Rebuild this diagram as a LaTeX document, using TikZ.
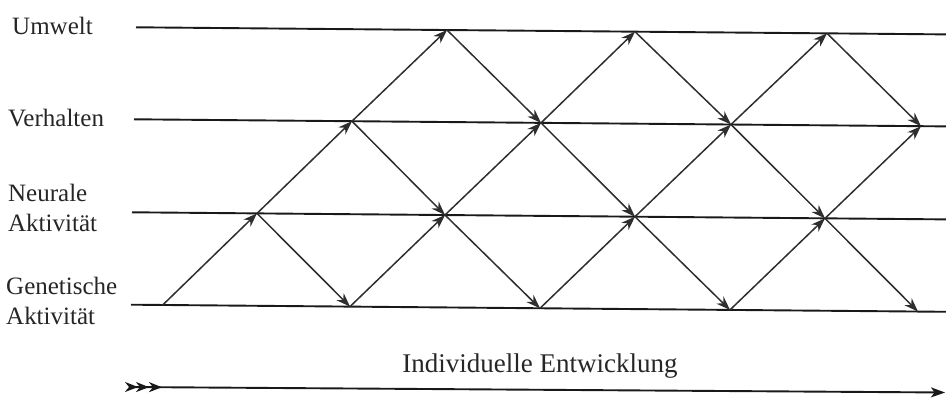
\documentclass[tikz,border=0pt]{standalone}
\usepackage{fontspec}
\setmainfont{Liberation Serif}
\usetikzlibrary{arrows.meta}
\begin{document}
\begin{tikzpicture}[x=1pt,y=-1pt,
  level/.style={line width=1.9pt, draw=black!90},
  flow/.style={line width=1.5pt, draw=black!82, -{Stealth[length=14pt,width=10pt,inset=4.5pt]}},
  lab/.style={anchor=base west, inner sep=0pt, text=black!85, font=\fontsize{25}{30}\selectfont},
  devarrow/.style={line width=1.9pt, draw=black!90,
    {Stealth[reversed,length=13pt,width=10pt,inset=4pt,sep=-2pt]Stealth[reversed,length=13pt,width=10pt,inset=4pt,sep=-2pt]Stealth[reversed,length=13pt,width=10pt,inset=4pt]}-{Stealth[length=14pt,width=10pt,inset=3.5pt]}},
]
\useasboundingbox (0,0) rectangle (946,403);

% level lines
\coordinate (Us) at (136,27.3); \coordinate (Ue) at (946,34.4);
\coordinate (Vs) at (134,119.3); \coordinate (Ve) at (946,126.4);
\coordinate (Ns) at (132,212.3); \coordinate (Ne) at (946,219.4);
\coordinate (Gs) at (131,304.7); \coordinate (Ge) at (946,311.8);
\draw[level] (Us) -- (Ue);
\draw[level] (Vs) -- (Ve);
\draw[level] (Ns) -- (Ne);
\draw[level] (Gs) -- (Ge);

% lattice points
\coordinate (G0) at (162.7,305.0);
\coordinate (G1) at (350,306.6);
\coordinate (G2) at (540,308.3);
\coordinate (G3) at (730,309.9);
\coordinate (G4) at (918,311.6);
\coordinate (N1) at (257,213.4);
\coordinate (N2) at (445,215.0);
\coordinate (N3) at (635,216.7);
\coordinate (N4) at (825,218.4);
\coordinate (V1) at (352,121.2);
\coordinate (V2) at (541,122.9);
\coordinate (V3) at (731,124.5);
\coordinate (V4) at (921,126.2);
\coordinate (U1) at (447,30.0);
\coordinate (U2) at (635,31.7);
\coordinate (U3) at (827,33.3);

% connections
\draw[flow] (G0) -- (N1);
\draw[flow] (N1) -- (V1);
\draw[flow] (V1) -- (U1);
\draw[flow] (N1) -- (G1);
\draw[flow] (G1) -- (N2);
\draw[flow] (V1) -- (N2);
\draw[flow] (N2) -- (V2);
\draw[flow] (U1) -- (V2);
\draw[flow] (V2) -- (U2);
\draw[flow] (N2) -- (G2);
\draw[flow] (G2) -- (N3);
\draw[flow] (V2) -- (N3);
\draw[flow] (N3) -- (V3);
\draw[flow] (U2) -- (V3);
\draw[flow] (V3) -- (U3);
\draw[flow] (N3) -- (G3);
\draw[flow] (G3) -- (N4);
\draw[flow] (V3) -- (N4);
\draw[flow] (N4) -- (V4);
\draw[flow] (U3) -- (V4);
\draw[flow] (N4) -- (G4);

% labels
\node[lab] (lu) at (12,34.3) {Umwelt};
\node[lab] (lv) at (8,127) {Verhalten};
\node[lab] (ln1) at (8,202) {Neurale};
\node[lab] (ln2) at (8,232) {Aktivität};
\node[lab] (lg1) at (6,295) {Genetische};
\node[lab] (lg2) at (6,325) {Aktivität};

% development axis
\coordinate (devstart) at (127,387);
\coordinate (devend) at (945,392.5);
\draw[devarrow] (devstart) -- (devend);
\node[anchor=base, inner sep=0pt, text=black!85, font=\fontsize{27}{32}\selectfont] (dev) at (540,373) {Individuelle Entwicklung};
\end{tikzpicture}
\end{document}
